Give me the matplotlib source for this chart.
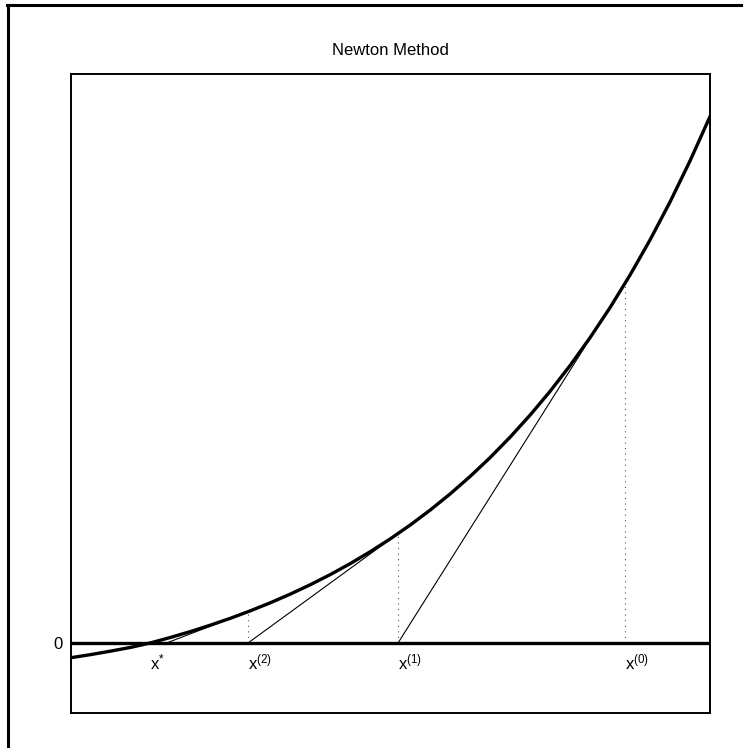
import matplotlib
matplotlib.use("Agg")
import matplotlib.pyplot as plt
from matplotlib.lines import Line2D

plt.rcParams['font.family'] = ['Liberation Sans', 'DejaVu Sans']
plt.rcParams['mathtext.fontset'] = 'custom'
plt.rcParams['mathtext.rm'] = 'Liberation Sans'
plt.rcParams['mathtext.it'] = 'Liberation Sans'

# curve samples
curve_x = [0.0, 0.125, 0.25, 0.375, 0.5, 0.625, 0.75, 0.875, 1.0, 1.125,
           1.25, 1.375, 1.5, 1.625, 1.75, 1.875, 2.0, 2.125, 2.25, 2.375,
           2.5, 2.625, 2.75, 2.875, 3.0, 3.125, 3.25, 3.375, 3.5, 3.625,
           3.75, 3.875, 4.0]
curve_y = [-0.21, -0.165, -0.115, -0.062, 0.003, 0.081, 0.165, 0.257, 0.355,
           0.462, 0.577, 0.701, 0.835, 0.980, 1.137, 1.307, 1.490, 1.688,
           1.902, 2.133, 2.383, 2.652, 2.944, 3.259, 3.599, 3.967, 4.365,
           4.794, 5.259, 5.760, 6.302, 6.888, 7.521]

# Newton iterates x(0), x(1), x(2), x(3) and the curve value there
iter_x = [3.468, 2.047, 1.108, 0.598]
iter_f = [5.14, 1.562, 0.446, 0.064]
next_x = [2.047, 1.108, 0.598, 0.498]
root_x = 0.495

labels_x = [root_x, 1.108, 2.047, 3.468]
labels_txt = [r'$\mathregular{x^{*}}$', r'$\mathregular{x^{(2)}}$',
              r'$\mathregular{x^{(1)}}$', r'$\mathregular{x^{(0)}}$']

fig = plt.figure(figsize=(7.43, 7.48), dpi=100)
ax = fig.add_axes([71/743, 1-713/748, 639/743, 639/748])

ax.axhline(0, color='black', lw=2.4, zorder=3)
ax.plot(curve_x, curve_y, color='black', lw=2.4, zorder=4,
        solid_joinstyle='round')

for xi, fi, xn in zip(iter_x, iter_f, next_x):
    ax.plot([xi, xn], [fi, 0], color='black', lw=0.8, zorder=2)
for xi, fi in zip(iter_x[:3], iter_f[:3]):
    ax.plot([xi, xi], [0, fi], color='#555555', lw=0.8, ls=(0, (1, 4)),
            zorder=1)

for xl, t in zip(labels_x, labels_txt):
    ax.annotate(t, xy=(xl, 0), xytext=(0, -7), textcoords='offset points',
                ha='left', va='top', fontsize=12)

ax.set_xlim(0, 4)
ax.set_ylim(-1, 8.129)
ax.set_xticks([])
ax.set_yticks([0])
ax.set_yticklabels(['0'], fontsize=12)
ax.tick_params(axis='y', length=0, pad=6)
for s in ax.spines.values():
    s.set_linewidth(1.4)
ax.set_title('Newton Method', fontsize=12, pad=14)

fig.add_artist(Line2D([8/743, 8/743], [0, 1-4.5/748], color='black',
                      lw=2.2, transform=fig.transFigure))
fig.add_artist(Line2D([7/743, 1], [1-4.5/748, 1-4.5/748], color='black',
                      lw=2.2, transform=fig.transFigure))

fig.savefig('out.png', dpi=100)
